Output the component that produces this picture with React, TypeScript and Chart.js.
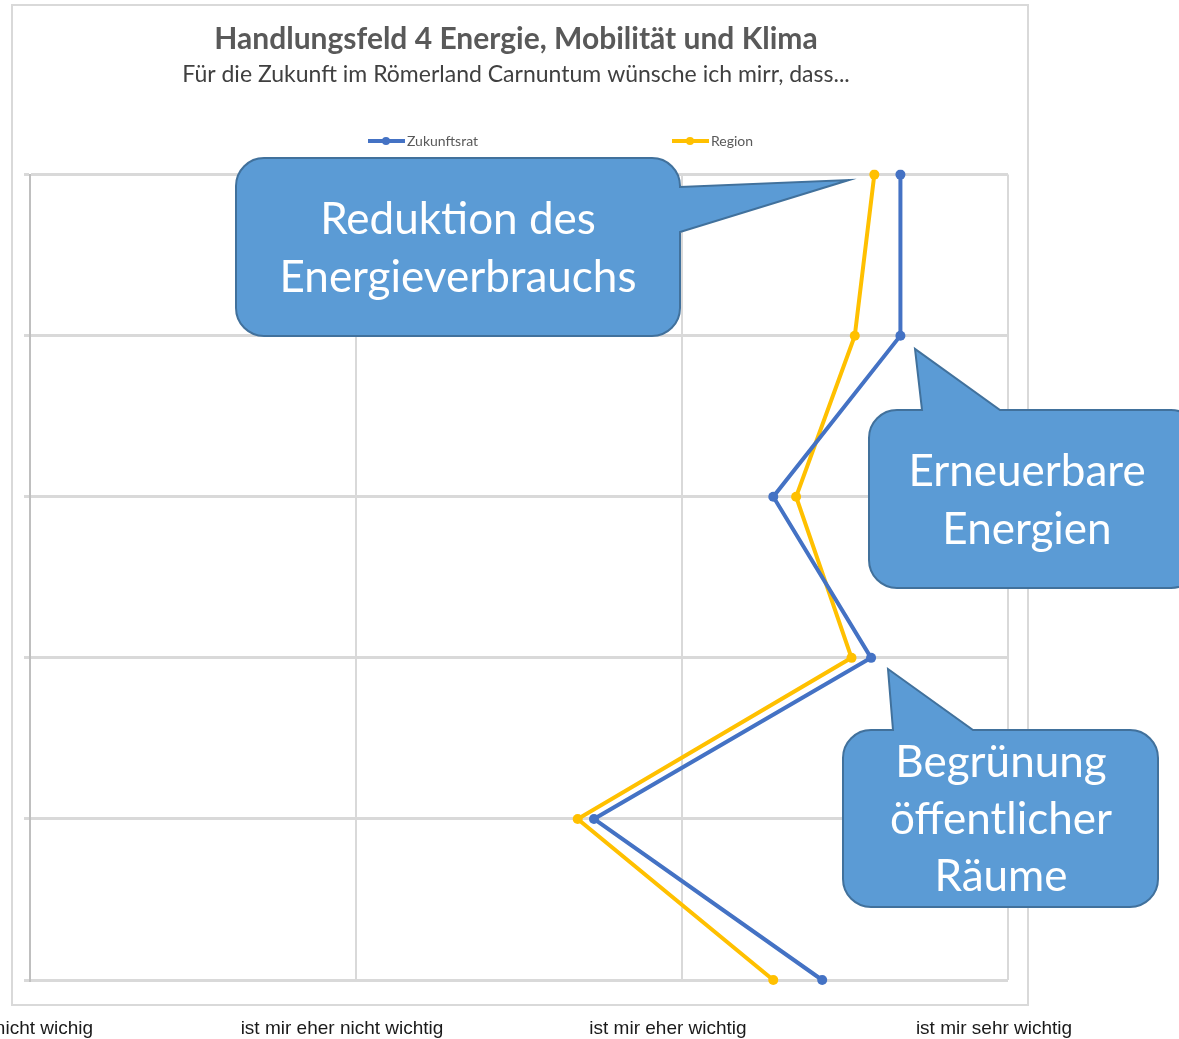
import React, { useEffect, useRef } from "react";
import { Chart, registerables } from "chart.js";

Chart.register(...registerables);

// ---- data ----
const categories = ["Aussage 1", "Aussage 2", "Aussage 3", "Aussage 4", "Aussage 5", "Aussage 6"];
const zukunftsrat = [3.67, 3.67, 3.28, 3.58, 2.73, 3.43];
const region = [3.59, 3.53, 3.35, 3.52, 2.68, 3.28];
const seriesNames = ["Zukunftsrat", "Region"];
const seriesColors = ["#4472C4", "#FFC000"];
const scaleLabels = [
  "ist mir nicht wichig",
  "ist mir eher nicht wichtig",
  "ist mir eher wichtig",
  "ist mir sehr wichtig",
];
const titleText = "Handlungsfeld 4 Energie, Mobilität und Klima";
const subtitleText = "Für die Zukunft im Römerland Carnuntum wünsche ich mirr, dass...";
const calloutTexts = [
  ["Reduktion des", "Energieverbrauchs"],
  ["Erneuerbare", "Energien"],
  ["Begrünung", "öffentlicher", "Räume"],
];

// callout geometry (annotation shapes)
const calloutShapes = [
  { x: 236, y: 158, w: 444, h: 178, r: 28, side: "right", b1: 187, b2: 232, tx: 849, ty: 180, cx: 458, cy: 220, lh: 58 },
  { x: 869, y: 410, w: 330, h: 178, r: 28, side: "top", b1: 922, b2: 1000, tx: 915, ty: 349, cx: 1027, cy: 472, lh: 58 },
  { x: 843, y: 730, w: 315, h: 177, r: 28, side: "top", b1: 893, b2: 973, tx: 888, ty: 669, cx: 1001, cy: 763, lh: 57 },
];

function calloutPath(ctx: CanvasRenderingContext2D, c: any) {
  const { x, y, w, h, r, side, b1, b2, tx, ty } = c;
  const x2 = x + w;
  const y2 = y + h;
  ctx.beginPath();
  ctx.moveTo(x + r, y);
  if (side === "top") {
    ctx.lineTo(b1, y);
    ctx.lineTo(tx, ty);
    ctx.lineTo(b2, y);
  }
  ctx.lineTo(x2 - r, y);
  ctx.arcTo(x2, y, x2, y + r, r);
  if (side === "right") {
    ctx.lineTo(x2, b1);
    ctx.lineTo(tx, ty);
    ctx.lineTo(x2, b2);
  }
  ctx.lineTo(x2, y2 - r);
  ctx.arcTo(x2, y2, x2 - r, y2, r);
  ctx.lineTo(x + r, y2);
  ctx.arcTo(x, y2, x, y2 - r, r);
  ctx.lineTo(x, y + r);
  ctx.arcTo(x, y, x + r, y, r);
  ctx.closePath();
}

const decorPlugin = {
  id: "decor",
  beforeDraw(chart: any) {
    const ctx = chart.ctx as CanvasRenderingContext2D;
    ctx.save();
    ctx.strokeStyle = "#d9d9d9";
    ctx.lineWidth = 2;
    ctx.strokeRect(12, 5, 1016, 1000);
    ctx.restore();
  },
  afterDraw(chart: any) {
    const ctx = chart.ctx as CanvasRenderingContext2D;
    const area = chart.chartArea;
    const cx = (area.left + area.right) / 2;
    // legend
    const starts = [cx - 151, cx + 153];
    const ly = 141;
    ctx.save();
    chart.data.datasets.forEach((ds: any, i: number) => {
      const sx = starts[i];
      ctx.strokeStyle = ds.borderColor;
      ctx.lineWidth = 4;
      ctx.beginPath();
      ctx.moveTo(sx, ly);
      ctx.lineTo(sx + 37, ly);
      ctx.stroke();
      ctx.fillStyle = ds.borderColor;
      ctx.beginPath();
      ctx.arc(sx + 18, ly, 4, 0, Math.PI * 2);
      ctx.fill();
      ctx.fillStyle = "#595959";
      ctx.font = "14px Lato";
      ctx.textAlign = "left";
      ctx.textBaseline = "middle";
      ctx.fillText(ds.label, sx + 39, ly);
    });
    // callouts
    calloutShapes.forEach((c, i) => {
      calloutPath(ctx, c);
      ctx.fillStyle = "#5B9BD5";
      ctx.fill();
      ctx.strokeStyle = "#41719C";
      ctx.lineWidth = 2;
      ctx.stroke();
      ctx.fillStyle = "#ffffff";
      ctx.font = "44px Lato";
      ctx.textAlign = "center";
      ctx.textBaseline = "middle";
      calloutTexts[i].forEach((t, j) => {
        ctx.fillText(t, c.cx, c.cy + j * c.lh);
      });
    });
    ctx.restore();
  },
};

export default function App() {
  const ref = useRef<HTMLCanvasElement>(null);
  useEffect(() => {
    if (!ref.current) return;
    const chart = new Chart(ref.current, {
      type: "line",
      data: {
        labels: categories,
        datasets: [
          {
            label: seriesNames[0],
            data: zukunftsrat,
            borderColor: seriesColors[0],
            backgroundColor: seriesColors[0],
            borderWidth: 4,
            pointRadius: 5,
            pointBorderWidth: 0,
            pointBackgroundColor: seriesColors[0],
            tension: 0,
          },
          {
            label: seriesNames[1],
            data: region,
            borderColor: seriesColors[1],
            backgroundColor: seriesColors[1],
            borderWidth: 4,
            pointRadius: 5,
            pointBorderWidth: 0,
            pointBackgroundColor: seriesColors[1],
            tension: 0,
          },
        ],
      },
      options: {
        indexAxis: "y",
        responsive: false,
        animation: false,
        layout: { padding: { left: 24, right: 171, top: 0, bottom: 0 } },
        plugins: {
          legend: { display: false },
          tooltip: { enabled: false },
          title: {
            display: true,
            text: titleText,
            color: "#595959",
            font: { family: "Lato", size: 30, weight: "bold" },
            padding: { top: 21, bottom: 0 },
          },
          subtitle: {
            display: true,
            text: subtitleText,
            color: "#404040",
            font: { family: "Lato", size: 23 },
            padding: { top: 4, bottom: 86 },
          },
        },
        scales: {
          x: {
            type: "linear",
            position: "bottom",
            min: 1,
            max: 4,
            ticks: {
              stepSize: 1,
              autoSkip: false,
              maxRotation: 0,
              callback: (v: any) => scaleLabels[Number(v) - 1],
              color: "#1a1a1a",
              font: { family: "Liberation Sans", size: 19 },
              padding: 37,
              labelOffset: -14,
            },
            grid: { color: "#d9d9d9", lineWidth: 2, drawTicks: false },
            border: { display: false },
            afterFit: (s: any) => {
              s.height = 59;
              s.paddingLeft = 0;
              s.paddingRight = 0;
            },
          },
          y: {
            type: "category",
            offset: false,
            ticks: { display: false },
            grid: { color: "#d9d9d9", lineWidth: 3, drawTicks: true, tickLength: 6 },
            border: { color: "#bfbfbf", width: 2 },
          },
        },
      },
      plugins: [decorPlugin],
    } as any);
    return () => chart.destroy();
  }, []);
  return (
    <div style={{ position: "absolute", left: 0, top: 0, width: 1179, height: 1039, background: "#fff", overflow: "hidden" }}>
      <canvas ref={ref} width={1179} height={1039} />
    </div>
  );
}
